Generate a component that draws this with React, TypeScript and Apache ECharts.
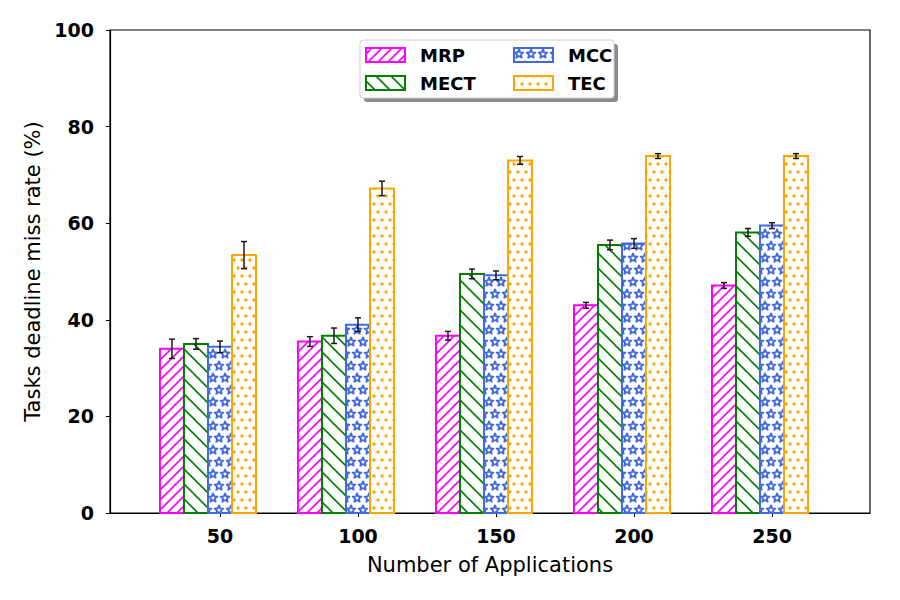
import React, { useEffect, useRef } from "react";
import * as echarts from "echarts";

// Application counts (x categories) and per-method deadline miss rates (%)
const categories = ["50", "100", "150", "200", "250"];
const methodNames = ["MRP", "MECT", "MCC", "TEC"];
const mrp = [34.0, 35.5, 36.7, 43.0, 47.1];
const mrpErr = [2.0, 1.0, 0.9, 0.6, 0.6];
const mect = [35.0, 36.7, 49.5, 55.5, 58.1];
const mectErr = [1.1, 1.6, 1.0, 1.0, 0.8];
const mcc = [34.4, 39.0, 49.2, 55.8, 59.5];
const mccErr = [1.2, 1.4, 0.9, 1.0, 0.6];
const tec = [53.4, 67.2, 73.0, 73.9, 73.9];
const tecErr = [2.8, 1.5, 0.8, 0.5, 0.5];
const yTicks = [0, 20, 40, 60, 80, 100];

const methodValues = [mrp, mect, mcc, tec];
const methodErrors = [mrpErr, mectErr, mccErr, tecErr];
const methodColors = ["#FF00FF", "#008000", "#4169E1", "#FFA500"];

const BAR_W = 0.174; // bar width in x-index units
const FONT = "DejaVu Sans";

function makeCanvas(w: number, h: number) {
  const c = document.createElement("canvas");
  c.width = w;
  c.height = h;
  const ctx = c.getContext("2d")!;
  ctx.fillStyle = "#ffffff";
  ctx.fillRect(0, 0, w, h);
  return { c, ctx };
}

function hatch(color: string, p: number, forward: boolean) {
  const { c, ctx } = makeCanvas(p, p);
  ctx.strokeStyle = color;
  ctx.lineWidth = 1.6;
  ctx.lineCap = "square";
  const segs = forward
    ? [
        [0, p, p, 0],
        [-p, p, p, -p],
        [0, 2 * p, 2 * p, 0],
      ]
    : [
        [0, 0, p, p],
        [-p, 0, p, 2 * p],
        [0, -p, 2 * p, p],
      ];
  segs.forEach(([a, b, d, e]) => {
    ctx.beginPath();
    ctx.moveTo(a, b);
    ctx.lineTo(d, e);
    ctx.stroke();
  });
  return { image: c, repeat: "repeat" };
}

function starPath(ctx: CanvasRenderingContext2D, cx: number, cy: number, r: number) {
  ctx.beginPath();
  for (let i = 0; i < 10; i++) {
    const rad = i % 2 === 0 ? r : r * 0.45;
    const a = -Math.PI / 2 + (i * Math.PI) / 5;
    const x = cx + rad * Math.cos(a);
    const y = cy + rad * Math.sin(a);
    if (i === 0) ctx.moveTo(x, y);
    else ctx.lineTo(x, y);
  }
  ctx.closePath();
}

function stars(color: string) {
  const w = 12;
  const h = 24;
  const { c, ctx } = makeCanvas(w, h);
  ctx.strokeStyle = color;
  ctx.lineWidth = 1.8;
  ctx.lineJoin = "round";
  const pts = [
    [3, 6],
    [15, 6],
    [-3, 18],
    [9, 18],
  ];
  pts.forEach(([x, y]) => {
    starPath(ctx, x, y, 4.6);
    ctx.stroke();
  });
  return { image: c, repeat: "repeat" };
}

function dots(color: string) {
  const w = 8;
  const h = 16;
  const { c, ctx } = makeCanvas(w, h);
  ctx.fillStyle = color;
  const pts = [
    [2, 4],
    [6, 12],
  ];
  pts.forEach(([x, y]) => {
    ctx.beginPath();
    ctx.arc(x, y, 1.7, 0, Math.PI * 2);
    ctx.fill();
  });
  return { image: c, repeat: "repeat" };
}

export default function App() {
  const ref = useRef<HTMLDivElement>(null);

  useEffect(() => {
    if (!ref.current) return;
    const chart = echarts.init(ref.current, undefined, { renderer: "svg" });

    const patterns = [
      hatch(methodColors[0], 10, true),
      hatch(methodColors[1], 15, false),
      stars(methodColors[2]),
      dots(methodColors[3]),
    ];

    const series = methodNames.map((name, k) => ({
      type: "custom",
      name,
      encode: { x: 0, y: 1 },
      data: methodValues[k].map((v, i) => [i, v, methodErrors[k][i]]),
      z: 2,
      renderItem: (_params: any, api: any) => {
        const idx = api.value(0);
        const v = api.value(1);
        const e = api.value(2);
        const base = api.coord([idx, 0]);
        const top = api.coord([idx, v]);
        const unit = api.size([1, 0])[0];
        const w = BAR_W * unit;
        const cx = base[0] + (k - 2) * w;
        const hi = api.coord([idx, v + e])[1];
        const lo = api.coord([idx, v - e])[1];
        const cap = 3;
        const eb = { stroke: "#1a1a1a", lineWidth: 1.5 };
        return {
          type: "group",
          children: [
            {
              type: "rect",
              shape: { x: cx - w / 2, y: top[1], width: w, height: base[1] - top[1] },
              style: { fill: patterns[k], stroke: methodColors[k], lineWidth: 2 },
            },
            { type: "line", shape: { x1: cx, y1: hi, x2: cx, y2: lo }, style: eb },
            { type: "line", shape: { x1: cx - cap, y1: hi, x2: cx + cap, y2: hi }, style: eb },
            { type: "line", shape: { x1: cx - cap, y1: lo, x2: cx + cap, y2: lo }, style: eb },
          ],
        };
      },
    }));

    // legend: MRP, MECT in the first column; MCC, TEC in the second
    const lx = 360;
    const ly = 40;
    const lw = 254;
    const lh = 58;
    const slots = [
      [0, 0],
      [0, 1],
      [1, 0],
      [1, 1],
    ];
    const legendItems: any[] = [];
    methodNames.forEach((name, k) => {
      const px = lx + 6 + slots[k][0] * 148;
      const py = ly + 8 + slots[k][1] * 28;
      legendItems.push({
        type: "rect",
        shape: { x: px, y: py, width: 39, height: 14 },
        style: { fill: patterns[k], stroke: methodColors[k], lineWidth: 2 },
      });
      legendItems.push({
        type: "text",
        x: px + 54,
        y: py + 7,
        style: {
          text: name,
          fill: "#000",
          font: `bold 18px "${FONT}"`,
          verticalAlign: "middle",
        },
      });
    });

    chart.setOption({
      animation: false,
      backgroundColor: "#ffffff",
      grid: {
        left: 110,
        right: 30,
        top: 30,
        bottom: 87,
        show: true,
        borderColor: "#000",
        borderWidth: 1.2,
        backgroundColor: "transparent",
      },
      xAxis: {
        type: "value",
        min: -0.797,
        max: 4.71,
        name: "Number of Applications",
        nameLocation: "middle",
        nameGap: 41,
        nameTextStyle: { fontFamily: FONT, fontSize: 21, color: "#000" },
        axisLine: { show: true, onZero: false, lineStyle: { color: "#000", width: 1.2 } },
        axisTick: {
          show: true,
          inside: false,
          length: 4,
          customValues: [0, 1, 2, 3, 4],
          lineStyle: { color: "#000", width: 1 },
        },
        axisLabel: {
          customValues: [0, 1, 2, 3, 4],
          formatter: (v: number) => categories[Math.round(v)] ?? "",
          fontFamily: FONT,
          fontWeight: "bold",
          fontSize: 19,
          color: "#000",
          margin: 13,
        },
        splitLine: { show: false },
      },
      yAxis: {
        type: "value",
        min: yTicks[0],
        max: yTicks[yTicks.length - 1],
        interval: 20,
        name: "Tasks deadline miss rate (%)",
        nameLocation: "middle",
        nameGap: 67,
        nameTextStyle: { fontFamily: FONT, fontSize: 21, color: "#000" },
        axisLine: { show: true, onZero: false, lineStyle: { color: "#000", width: 1.2 } },
        axisTick: { show: true, inside: false, length: 4, lineStyle: { color: "#000", width: 1 } },
        axisLabel: {
          fontFamily: FONT,
          fontWeight: "bold",
          fontSize: 19,
          color: "#000",
          margin: 16,
        },
        splitLine: { show: false },
      },
      series,
      graphic: [
        {
          type: "group",
          z: 100,
          children: [
            {
              type: "rect",
              shape: { x: lx + 4, y: ly + 4, width: lw, height: lh, r: 3 },
              style: { fill: "rgba(0,0,0,0.45)" },
            },
            {
              type: "rect",
              shape: { x: lx, y: ly, width: lw, height: lh, r: 3 },
              style: { fill: "#ffffff", stroke: "#d0d0d0", lineWidth: 1 },
            },
            ...legendItems,
          ],
        },
      ],
    });

    return () => chart.dispose();
  }, []);

  return (
    <div
      ref={ref}
      style={{ position: "absolute", left: 0, top: 0, width: 900, height: 600 }}
    />
  );
}
